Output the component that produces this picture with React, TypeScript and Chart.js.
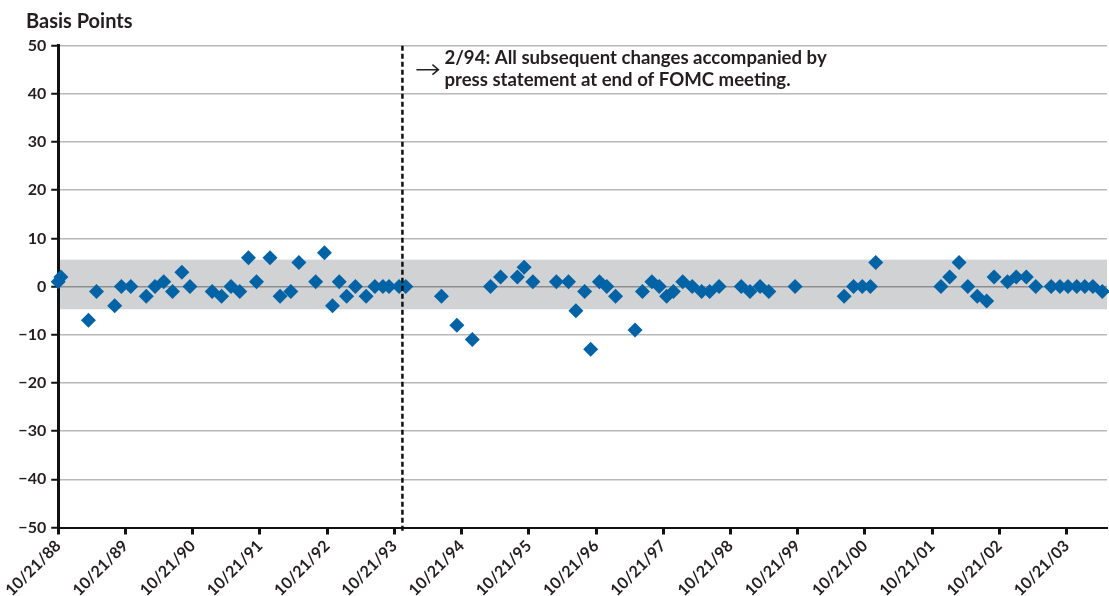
import React, { useEffect, useRef } from 'react';
import { Chart, registerables } from 'chart.js';

Chart.register(...registerables);

// x = years elapsed since 10/21/88
const tickLabels = ['10/21/88', '10/21/89', '10/21/90', '10/21/91', '10/21/92', '10/21/93', '10/21/94', '10/21/95', '10/21/96', '10/21/97', '10/21/98', '10/21/99', '10/21/00', '10/21/01', '10/21/02', '10/21/03'];

const yearsSince = [
  0.0, 0.04, 0.45, 0.57, 0.84, 0.94, 1.08, 1.31, 1.44, 1.57, 1.7, 1.84, 1.96,
  2.29, 2.43, 2.57, 2.7, 2.83, 2.95, 3.15, 3.3, 3.46, 3.58, 3.83, 3.96, 4.08,
  4.18, 4.29, 4.42, 4.58, 4.71, 4.83, 4.92, 5.07, 5.17,
  5.7, 5.93, 6.16, 6.43, 6.58, 6.83, 6.93, 7.06, 7.41, 7.59, 7.7, 7.83, 7.92,
  8.05, 8.16, 8.29, 8.58, 8.69, 8.83, 8.94, 9.05, 9.15, 9.29, 9.43, 9.57, 9.69,
  9.83, 10.16, 10.29, 10.44, 10.57, 10.96, 11.69, 11.83, 11.96, 12.08, 12.16,
  13.13, 13.26, 13.4, 13.53, 13.67, 13.81, 13.92, 14.12, 14.25, 14.4, 14.54,
  14.77, 14.9, 15.02, 15.15, 15.27, 15.39, 15.53,
];

const basisPoints = [
  1, 2, -7, -1, -4, 0, 0, -2, 0, 1, -1, 3, 0,
  -1, -2, 0, -1, 6, 1, 6, -2, -1, 5, 1, 7, -4,
  1, -2, 0, -2, 0, 0, 0, 0, 0,
  -2, -8, -11, 0, 2, 2, 4, 1, 1, 1, -5, -1, -13,
  1, 0, -2, -9, -1, 1, 0, -2, -1, 1, 0, -1, -1,
  0, 0, -1, 0, -1, 0, -2, 0, 0, 0, 5,
  0, 2, 5, 0, -2, -3, 2, 1, 2, 2, 0,
  0, 0, 0, 0, 0, 0, -1,
];

const bandLow = -4.7;
const bandHigh = 5.6;
const regimeChange = 5.12;
const xMax = 15.6;
const yTitle = 'Basis Points';
const noteLines = ['2/94: All subsequent changes accompanied by', 'press statement at end of FOMC meeting.'];

const FONT = 'Lato, "Open Sans", sans-serif';
const TEXT = '#231f20';

const overlay = {
  id: 'overlay',
  beforeDraw(chart: any) {
    const { ctx, chartArea, scales } = chart;
    const y = scales.y;
    const top = y.getPixelForValue(bandHigh);
    const bot = y.getPixelForValue(bandLow);
    ctx.save();
    ctx.fillStyle = '#d1d2d4';
    ctx.fillRect(chartArea.left, top, chartArea.right - chartArea.left, bot - top);
    ctx.restore();
  },
  afterDatasetsDraw(chart: any) {
    const { ctx, chartArea, scales } = chart;
    const x = scales.x.getPixelForValue(regimeChange);
    ctx.save();
    ctx.strokeStyle = '#111';
    ctx.lineWidth = 2.5;
    ctx.setLineDash([5, 3]);
    ctx.beginPath();
    ctx.moveTo(x, chartArea.top);
    ctx.lineTo(x, chartArea.bottom + 4);
    ctx.stroke();
    ctx.restore();
  },
  afterDraw(chart: any) {
    const { ctx, chartArea, scales } = chart;
    const x = scales.x.getPixelForValue(regimeChange);
    ctx.save();
    ctx.fillStyle = TEXT;
    ctx.textBaseline = 'alphabetic';
    ctx.textAlign = 'left';
    ctx.font = `bold 20px ${FONT}`;
    ctx.fillText(yTitle, 26, 28);
    ctx.font = `bold 18.6px ${FONT}`;
    ctx.fillText(noteLines[0], x + 42, chartArea.top + 18);
    ctx.fillText(noteLines[1], x + 42, chartArea.top + 40);
    // arrow
    const ay = chartArea.top + 24;
    ctx.strokeStyle = TEXT;
    ctx.lineWidth = 1.5;
    ctx.beginPath();
    ctx.moveTo(x + 14, ay);
    ctx.lineTo(x + 36, ay);
    ctx.moveTo(x + 30, ay - 5);
    ctx.lineTo(x + 36, ay);
    ctx.lineTo(x + 30, ay + 5);
    ctx.stroke();
    ctx.restore();
  },
};

export default function App() {
  const ref = useRef<HTMLCanvasElement>(null);
  useEffect(() => {
    document.body.style.margin = '0';
    const points = yearsSince.map((t, i) => ({ x: t, y: basisPoints[i] }));
    const chart = new Chart(ref.current!, {
      type: 'scatter',
      data: {
        datasets: [
          {
            data: points,
            pointStyle: 'rectRot',
            pointRadius: 7.5,
            pointHoverRadius: 7.5,
            backgroundColor: '#0063a6',
            borderWidth: 0,
            clip: false,
          },
        ],
      },
      options: {
        responsive: false,
        animation: false,
        devicePixelRatio: 1,
        layout: { autoPadding: false, padding: { top: 45.7, right: 2, left: 0, bottom: 0 } },
        plugins: { legend: { display: false }, tooltip: { enabled: false } },
        scales: {
          x: {
            type: 'linear',
            min: 0,
            max: xMax,
            afterBuildTicks: (s: any) => {
              s.ticks = s.ticks.filter((t: any) => Number.isInteger(t.value));
            },
            afterFit: (s: any) => {
              s.height = 68.5;
              s.paddingLeft = 0;
              s.paddingRight = 0;
            },
            ticks: {
              stepSize: 1,
              autoSkip: false,
              minRotation: 45,
              maxRotation: 45,
              padding: 2,
              color: TEXT,
              font: { family: FONT, size: 16, weight: 'bold' },
              callback: (v: any) => tickLabels[v] ?? '',
            },
            grid: {
              drawOnChartArea: false,
              drawTicks: true,
              tickLength: 7,
              tickWidth: 3,
              tickColor: '#111',
            },
            border: { color: '#111', width: 2 },
          },
          y: {
            min: -50,
            max: 50,
            afterFit: (s: any) => {
              s.width = 58.2;
              s.paddingTop = 0;
              s.paddingBottom = 0;
            },
            ticks: {
              stepSize: 10,
              padding: 5,
              color: TEXT,
              font: { family: FONT, size: 16, weight: 'bold' },
              callback: (v: any) => (v < 0 ? '\u2212' + Math.abs(v) : String(v)),
            },
            grid: {
              color: (c: any) => (c.tick && c.tick.value === 0 ? '#8d8d8d' : '#b8b8b8'),
              lineWidth: 1.5,
              tickLength: 7,
              tickWidth: 2,
              tickColor: '#111',
            },
            border: { color: '#111', width: 3 },
          },
        },
      },
      plugins: [overlay],
    });
    return () => chart.destroy();
  }, []);
  return (
    <div style={{ width: 1109, height: 596, position: 'relative' }}>
      <canvas ref={ref} width={1109} height={596} style={{ display: 'block' }} />
    </div>
  );
}
